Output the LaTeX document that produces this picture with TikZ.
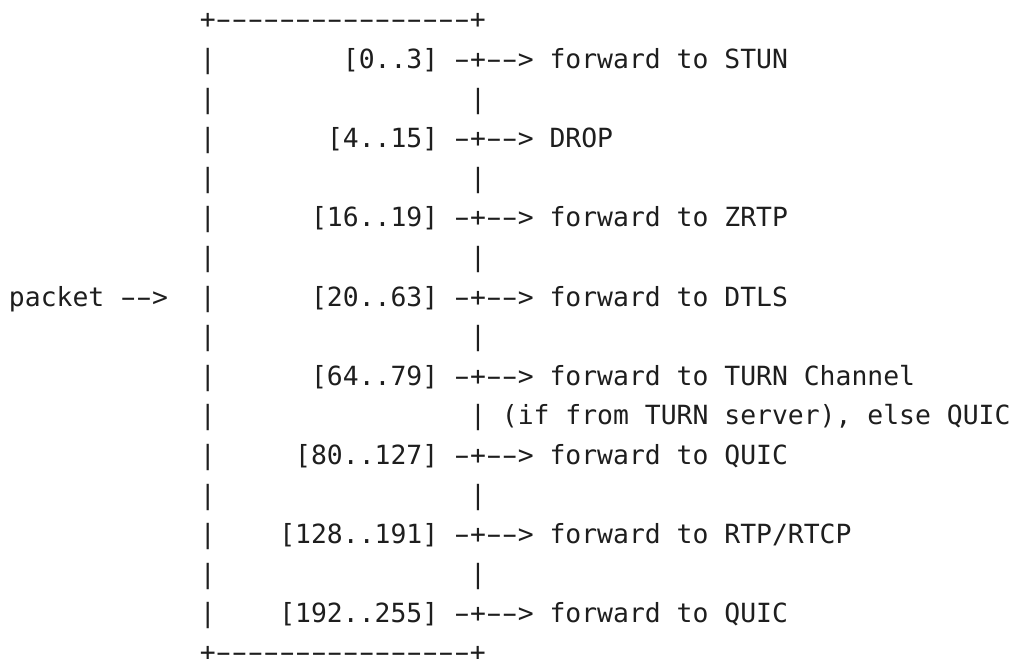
\documentclass[tikz,border=0pt]{standalone}
\usepackage{fontspec}
\usepackage{graphicx}
\setmonofont{DejaVu Sans Mono}
\definecolor{ink}{RGB}{30,30,30}
% a hyphen stretched to fill its character cell
\newcommand{\hy}{\makebox[0.602em][c]{\scalebox{1.75}[1]{-}}}
\newcommand{\frameline}{+\hy\hy\hy\hy\hy\hy\hy\hy\hy\hy\hy\hy\hy\hy\hy\hy+}
\newcommand{\tap}{\hy+\hy\hy>}
\begin{document}
% one unit in x = one character cell, one unit in y = one text row
\begin{tikzpicture}[x=15.9pt, y=-39.6pt,
  cell/.style={anchor=base west, inner sep=0pt, outer sep=0pt,
    font=\ttfamily\fontsize{26.4pt}{39.6pt}\selectfont, text=ink}]
\useasboundingbox (-0.566,-0.732) rectangle (63.208,15.909);
\fill[white] (-0.566,-0.732) rectangle (63.208,15.909);

% frame of the demultiplexer
\node[cell] (top) at (12,0) {\frameline};
\foreach \r in {1,...,15} {
  \node[cell] (l\r) at (12,\r) {|};
}
\foreach \r in {2,4,6,8,12,14} {
  \node[cell] (r\r) at (29,\r) {|};
}
\node[cell, text depth=0pt, yshift=1.5pt] (bot) at (12,16) {\frameline};

% incoming packet
\node[cell] (pkt) at (0,7) {packet \hy\hy>};

% first-byte ranges and where they go
\node[cell] (k1)  at (21,1)  {[0..3]};
\node[cell] (a1)  at (28,1)  {\tap{} forward to STUN};
\node[cell] (k3)  at (20,3)  {[4..15]};
\node[cell] (a3)  at (28,3)  {\tap{} DROP};
\node[cell] (k5)  at (19,5)  {[16..19]};
\node[cell] (a5)  at (28,5)  {\tap{} forward to ZRTP};
\node[cell] (k7)  at (19,7)  {[20..63]};
\node[cell] (a7)  at (28,7)  {\tap{} forward to DTLS};
\node[cell] (k9)  at (19,9)  {[64..79]};
\node[cell] (a9)  at (28,9)  {\tap{} forward to TURN Channel};
\node[cell] (a10) at (29,10) {| (if from TURN server), else QUIC};
\node[cell] (k11) at (18,11) {[80..127]};
\node[cell] (a11) at (28,11) {\tap{} forward to QUIC};
\node[cell] (k13) at (17,13) {[128..191]};
\node[cell] (a13) at (28,13) {\tap{} forward to RTP/RTCP};
\node[cell] (k15) at (17,15) {[192..255]};
\node[cell] (a15) at (28,15) {\tap{} forward to QUIC};
\end{tikzpicture}
\end{document}
